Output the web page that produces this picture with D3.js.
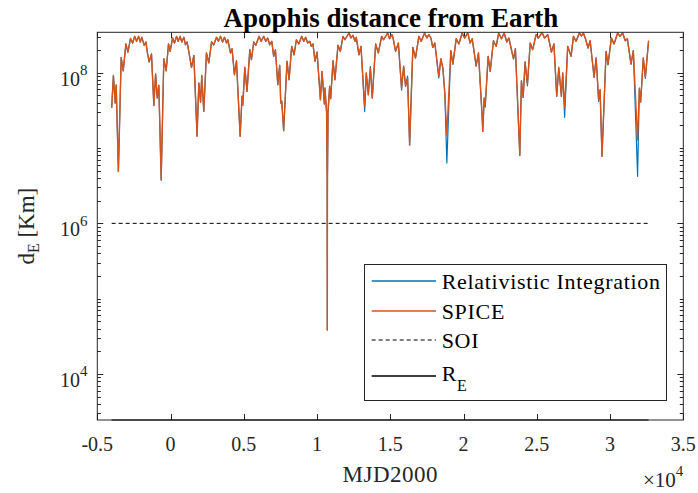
<!DOCTYPE html>
<html>
<head>
<meta charset="utf-8">
<script src="https://cdn.jsdelivr.net/npm/d3@7"></script>
<style>
  html, body { margin: 0; padding: 0; background: #fff; }
  svg { display: block; font-family: 'Liberation Serif', 'Times New Roman', serif; }
</style>
</head>
<body>
<svg></svg>
<script>
// DATA (MJD2000 days, distance from Earth in km)
const mjd = [
  -4020, -3900, -3780, -3710, -3560, -3370, -3230, -3050, -2910, -2730,
  -2590, -2450, -2320, -2180, -2070, -1960, -1800, -1680, -1580, -1460,
  -1300, -1140, -1020, -910, -800, -640, -460, -300, -140, -30,
  140, 270, 410, 520, 650, 770, 910, 1020, 1130, 1430,
  1590, 1810, 1930, 2050, 2130, 2270, 2450, 2610, 2800, 2950,
  3140, 3270, 3410, 3550, 3680, 3820, 3910, 4090, 4200, 4360,
  4500, 4750, 4880, 4930, 5070, 5220, 5410, 5520, 5680, 5820,
  6040, 6180, 6360, 6500, 6630, 6770, 6910, 7040, 7160, 7320,
  7450, 7520, 7590, 7720, 7950, 8090, 8270, 8430, 8590, 8750,
  8950, 9090, 9220, 9360, 9500, 9610, 9720, 9860, 10000, 10230,
  10340, 10500, 10540, 10650, 10690, 10700, 10710, 10750, 10860, 10930,
  11090, 11220, 11430, 11590,
  11770, 11900, 12180, 12310, 12450, 12590, 12680, 12860, 13000, 13250,
  13360, 13500, 13640, 13770, 14000, 14180, 14410, 14540, 14820, 14950,
  15110, 15190, 15360, 15550, 15770, 15910, 16040, 16180, 16320, 16540,
  16720, 16950, 17110, 17340, 17500, 17630, 17770, 17900, 18040, 18310,
  18450, 18590, 18720, 18860, 19130, 19270, 19500, 19680, 19910, 20070,
  20290, 20450, 20590, 20860, 21020, 21270, 21310, 21410, 21480, 21680,
  21820, 22040, 22230, 22400, 22590, 22770, 22950, 23090, 23410, 23540,
  23840, 23950, 24070, 24200, 24360, 24550, 24720, 24950, 25110, 25360,
  25520, 25750, 26000, 26170, 26360, 26500, 26680, 26770, 26900, 27110,
  27340, 27500, 27680, 27910, 28040, 28180, 28320, 28500, 28640, 28910,
  29050, 29220, 29320, 29450, 29730, 29860, 30090, 30270, 30520, 30680,
  30860, 31040, 31180, 31430, 31590, 31880, 32000, 32090, 32270, 32410,
  32630
];

const spiceKm = [
  3.40e7, 9.2e7, 3.96e7, 6.87e7, 4.88e6, 1.59e8, 1.06e8, 2.41e8, 1.88e8, 2.85e8,
  2.48e8, 3.04e8, 2.61e8, 3.04e8, 2.56e8, 2.95e8, 2.31e8, 2.56e8, 1.83e8, 1.39e8,
  1.77e8, 3.67e7, 9.6e7, 4.61e7, 6.8e7, 3.76e6, 1.53e8, 1.06e8, 2.41e8, 1.92e8,
  2.89e8, 2.48e8, 3.04e8, 2.61e8, 3.04e8, 2.56e8, 2.95e8, 2.35e8, 2.56e8, 1.18e8,
  1.70e8, 1.44e7, 7.3e7, 4.08e7, 9.2e7, 3.07e7, 1.83e8, 1.35e8, 2.56e8, 2.35e8,
  2.95e8, 2.61e8, 3.04e8, 2.56e8, 2.95e8, 2.48e8, 2.74e8, 1.83e8, 2.08e8, 9.4e7,
  1.44e8, 1.43e7, 4.86e7, 3.69e7, 1.18e8, 5.66e7, 2.02e8, 1.49e8, 2.56e8, 2.31e8,
  3.04e8, 2.61e8, 3.04e8, 2.61e8, 2.89e8, 2.35e8, 2.61e8, 1.65e8, 2.02e8, 6.93e7,
  1.25e8, 3.96e7, 4.21e7, 1.70e7, 1.42e8, 8.07e7, 2.24e8, 1.73e8, 2.74e8, 2.41e8,
  3.04e8, 2.61e8, 2.95e8, 2.48e8, 2.61e8, 2.24e8, 2.41e8, 1.42e8, 1.88e8, 4.38e7,
  1.04e8, 3.84e7, 6.27e7, 3.0e7, 4.0e6, 3.83e4, 4.0e6, 3.0e7, 6.6e7, 4.51e7,
  1.44e8, 8.07e7, 2.31e8, 1.92e8,
  3.04e8, 2.74e8, 3.37e8, 2.89e8, 3.14e8, 2.61e8, 2.95e8, 1.73e8, 2.24e8, 3.56e7,
  9.9e7, 5.10e7, 1.15e8, 4.61e7, 2.41e8, 1.83e8, 3.04e8, 2.74e8, 3.37e8, 2.83e8,
  3.20e8, 2.89e8, 1.92e8, 2.48e8, 6.27e7, 1.22e8, 6.6e7, 8.5e7, 1.10e7, 2.17e8,
  1.57e8, 3.04e8, 2.61e8, 3.37e8, 2.89e8, 3.20e8, 2.89e8, 2.17e8, 2.48e8, 8.95e7,
  1.53e8, 1.15e8, 5.21e7, 1.49e7, 1.96e8, 1.30e8, 2.83e8, 2.41e8, 3.37e8, 2.89e8,
  3.37e8, 2.48e8, 2.83e8, 1.25e8, 1.83e8, 2.66e7, 1.67e7, 4.61e7, 3.69e7, 1.65e8,
  1.04e8, 2.66e8, 2.24e8, 3.37e8, 2.83e8, 3.37e8, 2.56e8, 2.89e8, 1.53e8, 2.08e8,
  8.0e6, 7.83e7, 4.71e7, 1.39e8, 7.08e7, 2.48e8, 2.02e8, 3.20e8, 2.89e8, 3.42e8,
  2.89e8, 3.20e8, 1.88e8, 2.41e8, 4.86e7, 1.18e8, 4.86e7, 9.9e7, 3.40e7, 2.24e8,
  1.65e8, 3.04e8, 2.61e8, 3.37e8, 3.07e8, 3.37e8, 2.83e8, 2.13e8, 2.66e8, 8.7e7,
  1.53e8, 4.48e7, 5.94e7, 7.76e6, 1.92e8, 1.28e8, 2.89e8, 2.41e8, 3.37e8, 3.03e8,
  3.37e8, 2.66e8, 2.83e8, 1.30e8, 1.96e8, 1.28e7, 6.27e7, 4.08e7, 1.57e8, 8.7e7,
  2.66e8
];

const relativisticKm = [
  3.40e7, 9.2e7, 3.96e7, 6.87e7, 4.88e6, 1.59e8, 1.06e8, 2.41e8, 1.88e8, 2.85e8,
  2.48e8, 3.04e8, 2.61e8, 3.04e8, 2.56e8, 2.95e8, 2.31e8, 2.56e8, 1.83e8, 1.39e8,
  1.77e8, 3.67e7, 9.6e7, 4.61e7, 6.8e7, 3.76e6, 1.53e8, 1.06e8, 2.41e8, 1.92e8,
  2.89e8, 2.48e8, 3.04e8, 2.61e8, 3.04e8, 2.56e8, 2.95e8, 2.35e8, 2.56e8, 1.18e8,
  1.70e8, 1.44e7, 7.3e7, 4.08e7, 9.2e7, 3.07e7, 1.83e8, 1.35e8, 2.56e8, 2.35e8,
  2.95e8, 2.61e8, 3.04e8, 2.56e8, 2.95e8, 2.48e8, 2.74e8, 1.83e8, 2.08e8, 9.4e7,
  1.44e8, 1.43e7, 4.86e7, 3.69e7, 1.18e8, 5.66e7, 2.02e8, 1.49e8, 2.56e8, 2.31e8,
  3.04e8, 2.61e8, 3.04e8, 2.61e8, 2.89e8, 2.35e8, 2.61e8, 1.65e8, 2.02e8, 6.93e7,
  1.25e8, 3.96e7, 4.21e7, 1.70e7, 1.42e8, 8.07e7, 2.24e8, 1.73e8, 2.74e8, 2.41e8,
  3.04e8, 2.61e8, 2.95e8, 2.48e8, 2.61e8, 2.24e8, 2.41e8, 1.42e8, 1.88e8, 4.38e7,
  1.04e8, 3.84e7, 6.27e7, 3.0e7, 4.0e6, 3.83e4, 4.0e6, 3.0e7, 6.6e7, 4.51e7,
  1.44e8, 8.07e7, 2.31e8, 1.92e8,
  3.04e8, 2.74e8, 3.37e8, 2.89e8, 3.14e8, 2.61e8, 2.95e8, 1.73e8, 2.24e8, 3.05e7,
  9.9e7, 5.10e7, 1.21e8, 4.61e7, 2.41e8, 1.83e8, 3.04e8, 2.74e8, 3.37e8, 2.83e8,
  3.20e8, 2.89e8, 1.92e8, 2.48e8, 5.89e7, 1.22e8, 6.6e7, 9.0e7, 1.10e7, 2.17e8,
  1.57e8, 3.04e8, 2.61e8, 3.37e8, 2.89e8, 3.20e8, 2.89e8, 2.17e8, 2.48e8, 8.5e7,
  1.53e8, 1.15e8, 5.5e7, 6.32e6, 1.96e8, 1.30e8, 2.83e8, 2.41e8, 3.37e8, 2.89e8,
  3.37e8, 2.48e8, 2.83e8, 1.21e8, 1.83e8, 2.56e7, 1.67e7, 4.61e7, 3.5e7, 1.65e8,
  1.04e8, 2.66e8, 2.24e8, 3.37e8, 2.83e8, 3.37e8, 2.56e8, 2.89e8, 1.53e8, 2.08e8,
  8.0e6, 7.83e7, 4.71e7, 1.39e8, 6.7e7, 2.48e8, 2.02e8, 3.20e8, 2.89e8, 3.42e8,
  2.89e8, 3.20e8, 1.88e8, 2.41e8, 4.86e7, 1.15e8, 4.86e7, 9.9e7, 2.56e7, 2.24e8,
  1.65e8, 3.04e8, 2.61e8, 3.37e8, 3.07e8, 3.37e8, 2.83e8, 2.13e8, 2.66e8, 8.7e7,
  1.59e8, 4.15e7, 5.94e7, 7.76e6, 1.92e8, 1.28e8, 2.89e8, 2.41e8, 3.37e8, 3.03e8,
  3.37e8, 2.66e8, 2.83e8, 1.30e8, 1.96e8, 4.21e6, 6.1e7, 4.08e7, 1.57e8, 8.4e7,
  2.66e8
];

const soiKm = 1e6;
const earthRadiusKm = 2450;

const xLimits = [-5000, 35000];
const yLimits = [earthRadiusKm, 3.44e8];
const xTicks = [-5000, 0, 5000, 10000, 15000, 20000, 25000, 30000, 35000];
const xTickLabels = ['-0.5', '0', '0.5', '1', '1.5', '2', '2.5', '3', '3.5'];
const yTickExponents = [4, 6, 8];
const legendLabels = ['Relativistic Integration', 'SPICE', 'SOI', 'R'];

const width = 698;
const height = 493;
const axisColor = '#262626';
const plot = { left: 97.3, right: 683.3, top: 32.3, bottom: 420 };

const svg = d3.select('svg')
  .attr('width', width)
  .attr('height', height);

// SCALES
const x = d3.scaleLinear().domain(xLimits).range([plot.left, plot.right]);
const y = d3.scaleLog().domain(yLimits).range([plot.bottom, plot.top]);

svg.append('defs').append('clipPath').attr('id', 'plotClip')
  .append('rect')
  .attr('x', plot.left).attr('y', plot.top - 1)
  .attr('width', plot.right - plot.left).attr('height', plot.bottom - plot.top + 2);

// TICKS (inward, on all four sides)
const minorTicks = [];
for (let e = 3; e <= 8; e++) {
  for (let k = 1; k <= 9; k++) {
    const v = k * Math.pow(10, e);
    if (v < yLimits[0] || v > yLimits[1]) continue;
    if (k === 1 && yTickExponents.includes(e)) continue;
    minorTicks.push(v);
  }
}
const majorY = yTickExponents.map(e => Math.pow(10, e));

const tickGroup = svg.append('g')
  .attr('stroke', axisColor)
  .attr('stroke-width', 1);

const yTickDefs = majorY.map(v => ({ v, len: 6 })).concat(minorTicks.map(v => ({ v, len: 3.5 })));
[plot.left, plot.right].forEach((xPos, side) => {
  tickGroup.selectAll(null)
    .data(yTickDefs)
    .enter().append('line')
    .attr('x1', xPos)
    .attr('x2', d => side === 0 ? xPos + d.len : xPos - d.len)
    .attr('y1', d => Math.round(y(d.v)) + 0.5)
    .attr('y2', d => Math.round(y(d.v)) + 0.5);
});
[plot.bottom, plot.top].forEach((yPos, side) => {
  tickGroup.selectAll(null)
    .data(xTicks)
    .enter().append('line')
    .attr('x1', d => Math.round(x(d)) + 0.5)
    .attr('x2', d => Math.round(x(d)) + 0.5)
    .attr('y1', yPos)
    .attr('y2', side === 0 ? yPos - 6 : yPos + 6);
});

// SERIES
const line = d3.line()
  .x(d => x(d[0]))
  .y(d => y(d[1]));

const series = [
  { values: relativisticKm, color: '#0072BD', w: 1.2 },
  { values: spiceKm, color: '#D95319', w: 1.4 }
];

const seriesGroup = svg.append('g').attr('clip-path', 'url(#plotClip)');

seriesGroup.selectAll('path.series')
  .data(series)
  .enter().append('path')
  .attr('class', 'series')
  .attr('d', s => line(mjd.map((t, i) => [t, s.values[i]])))
  .attr('fill', 'none')
  .attr('stroke', s => s.color)
  .attr('stroke-width', s => s.w)
  .attr('stroke-linejoin', 'round');

const xStart = mjd[0];
const xEnd = mjd[mjd.length - 1];

seriesGroup.append('line')
  .attr('x1', x(xStart)).attr('x2', x(xEnd))
  .attr('y1', y(soiKm)).attr('y2', y(soiKm))
  .attr('stroke', '#000')
  .attr('stroke-width', 1)
  .attr('stroke-dasharray', '4,3');

// AXES BOX
svg.append('rect')
  .attr('x', plot.left).attr('y', plot.top)
  .attr('width', plot.right - plot.left).attr('height', plot.bottom - plot.top)
  .attr('fill', 'none')
  .attr('stroke', axisColor)
  .attr('stroke-width', 1);

// R_E line sits on the lower limit
svg.append('line')
  .attr('x1', x(xStart)).attr('x2', x(xEnd))
  .attr('y1', y(earthRadiusKm)).attr('y2', y(earthRadiusKm))
  .attr('stroke', '#000')
  .attr('stroke-width', 1.1);

// TICK LABELS
svg.append('g')
  .selectAll('text')
  .data(xTicks)
  .enter().append('text')
  .attr('x', d => x(d))
  .attr('y', 451)
  .attr('text-anchor', 'middle')
  .attr('font-size', 20)
  .attr('fill', axisColor)
  .text((d, i) => xTickLabels[i]);

const yLabels = svg.append('g')
  .selectAll('text')
  .data(yTickExponents)
  .enter().append('text')
  .attr('x', 87.5)
  .attr('y', e => y(Math.pow(10, e)) + 13)
  .attr('text-anchor', 'end')
  .attr('font-size', 20)
  .attr('fill', axisColor);
yLabels.append('tspan').text('10');
yLabels.append('tspan')
  .attr('dy', -10.5)
  .attr('font-size', 15)
  .text(e => e);

// x10^4 multiplier
const mult = svg.append('text')
  .attr('x', plot.right)
  .attr('y', 487)
  .attr('text-anchor', 'end')
  .attr('font-size', 21)
  .attr('fill', axisColor);
mult.append('tspan').text('\u00d710');
mult.append('tspan').attr('dy', -11).attr('font-size', 15).text('4');

// AXIS LABELS & TITLE
svg.append('text')
  .attr('x', (plot.left + plot.right) / 2)
  .attr('y', 482)
  .attr('text-anchor', 'middle')
  .attr('font-size', 23)
  .attr('letter-spacing', 0.5)
  .attr('fill', axisColor)
  .text('MJD2000');

const yLab = svg.append('text')
  .attr('transform', `translate(34, ${(plot.top + plot.bottom) / 2}) rotate(-90)`)
  .attr('text-anchor', 'middle')
  .attr('font-size', 23)
  .attr('fill', axisColor);
yLab.append('tspan').text('d');
yLab.append('tspan').attr('dy', 5).attr('font-size', 16).text('E');
yLab.append('tspan').attr('dy', -5).text(' [Km]');

svg.append('text')
  .attr('x', 391)
  .attr('y', 26.5)
  .attr('text-anchor', 'middle')
  .attr('font-size', 27)
  .attr('font-weight', 'bold')
  .attr('fill', '#000')
  .text('Apophis distance from Earth');

// LEGEND
const legendBox = { x: 364.5, y: 264.5, w: 302, h: 136 };
const legendRows = [281, 311, 340, 376];
const legendItems = [
  { label: legendLabels[0], color: '#0072BD', dash: null },
  { label: legendLabels[1], color: '#D95319', dash: null },
  { label: legendLabels[2], color: '#000', dash: '4,3' },
  { label: legendLabels[3], color: '#000', dash: null, sub: 'E' }
];

const legend = svg.append('g');
legend.append('rect')
  .attr('x', legendBox.x).attr('y', legendBox.y)
  .attr('width', legendBox.w).attr('height', legendBox.h)
  .attr('fill', '#fff')
  .attr('stroke', axisColor)
  .attr('stroke-width', 1);

const rows = legend.selectAll('g.row')
  .data(legendItems)
  .enter().append('g')
  .attr('class', 'row')
  .attr('transform', (d, i) => `translate(0, ${legendRows[i]})`);

rows.append('line')
  .attr('x1', 371.7).attr('x2', 436)
  .attr('stroke', d => d.color)
  .attr('stroke-width', d => d.dash ? 1 : 1.4)
  .attr('stroke-dasharray', d => d.dash);

const rowText = rows.append('text')
  .attr('x', 441.7)
  .attr('y', (d, i) => i === 3 ? 4.7 : 8)
  .attr('font-size', 22)
  .attr('letter-spacing', 0.7)
  .attr('fill', '#000');
rowText.append('tspan').text(d => d.label);
rowText.filter(d => d.sub).append('tspan')
  .attr('dy', 10)
  .attr('font-size', 16)
  .text(d => d.sub);
</script>
</body>
</html>
